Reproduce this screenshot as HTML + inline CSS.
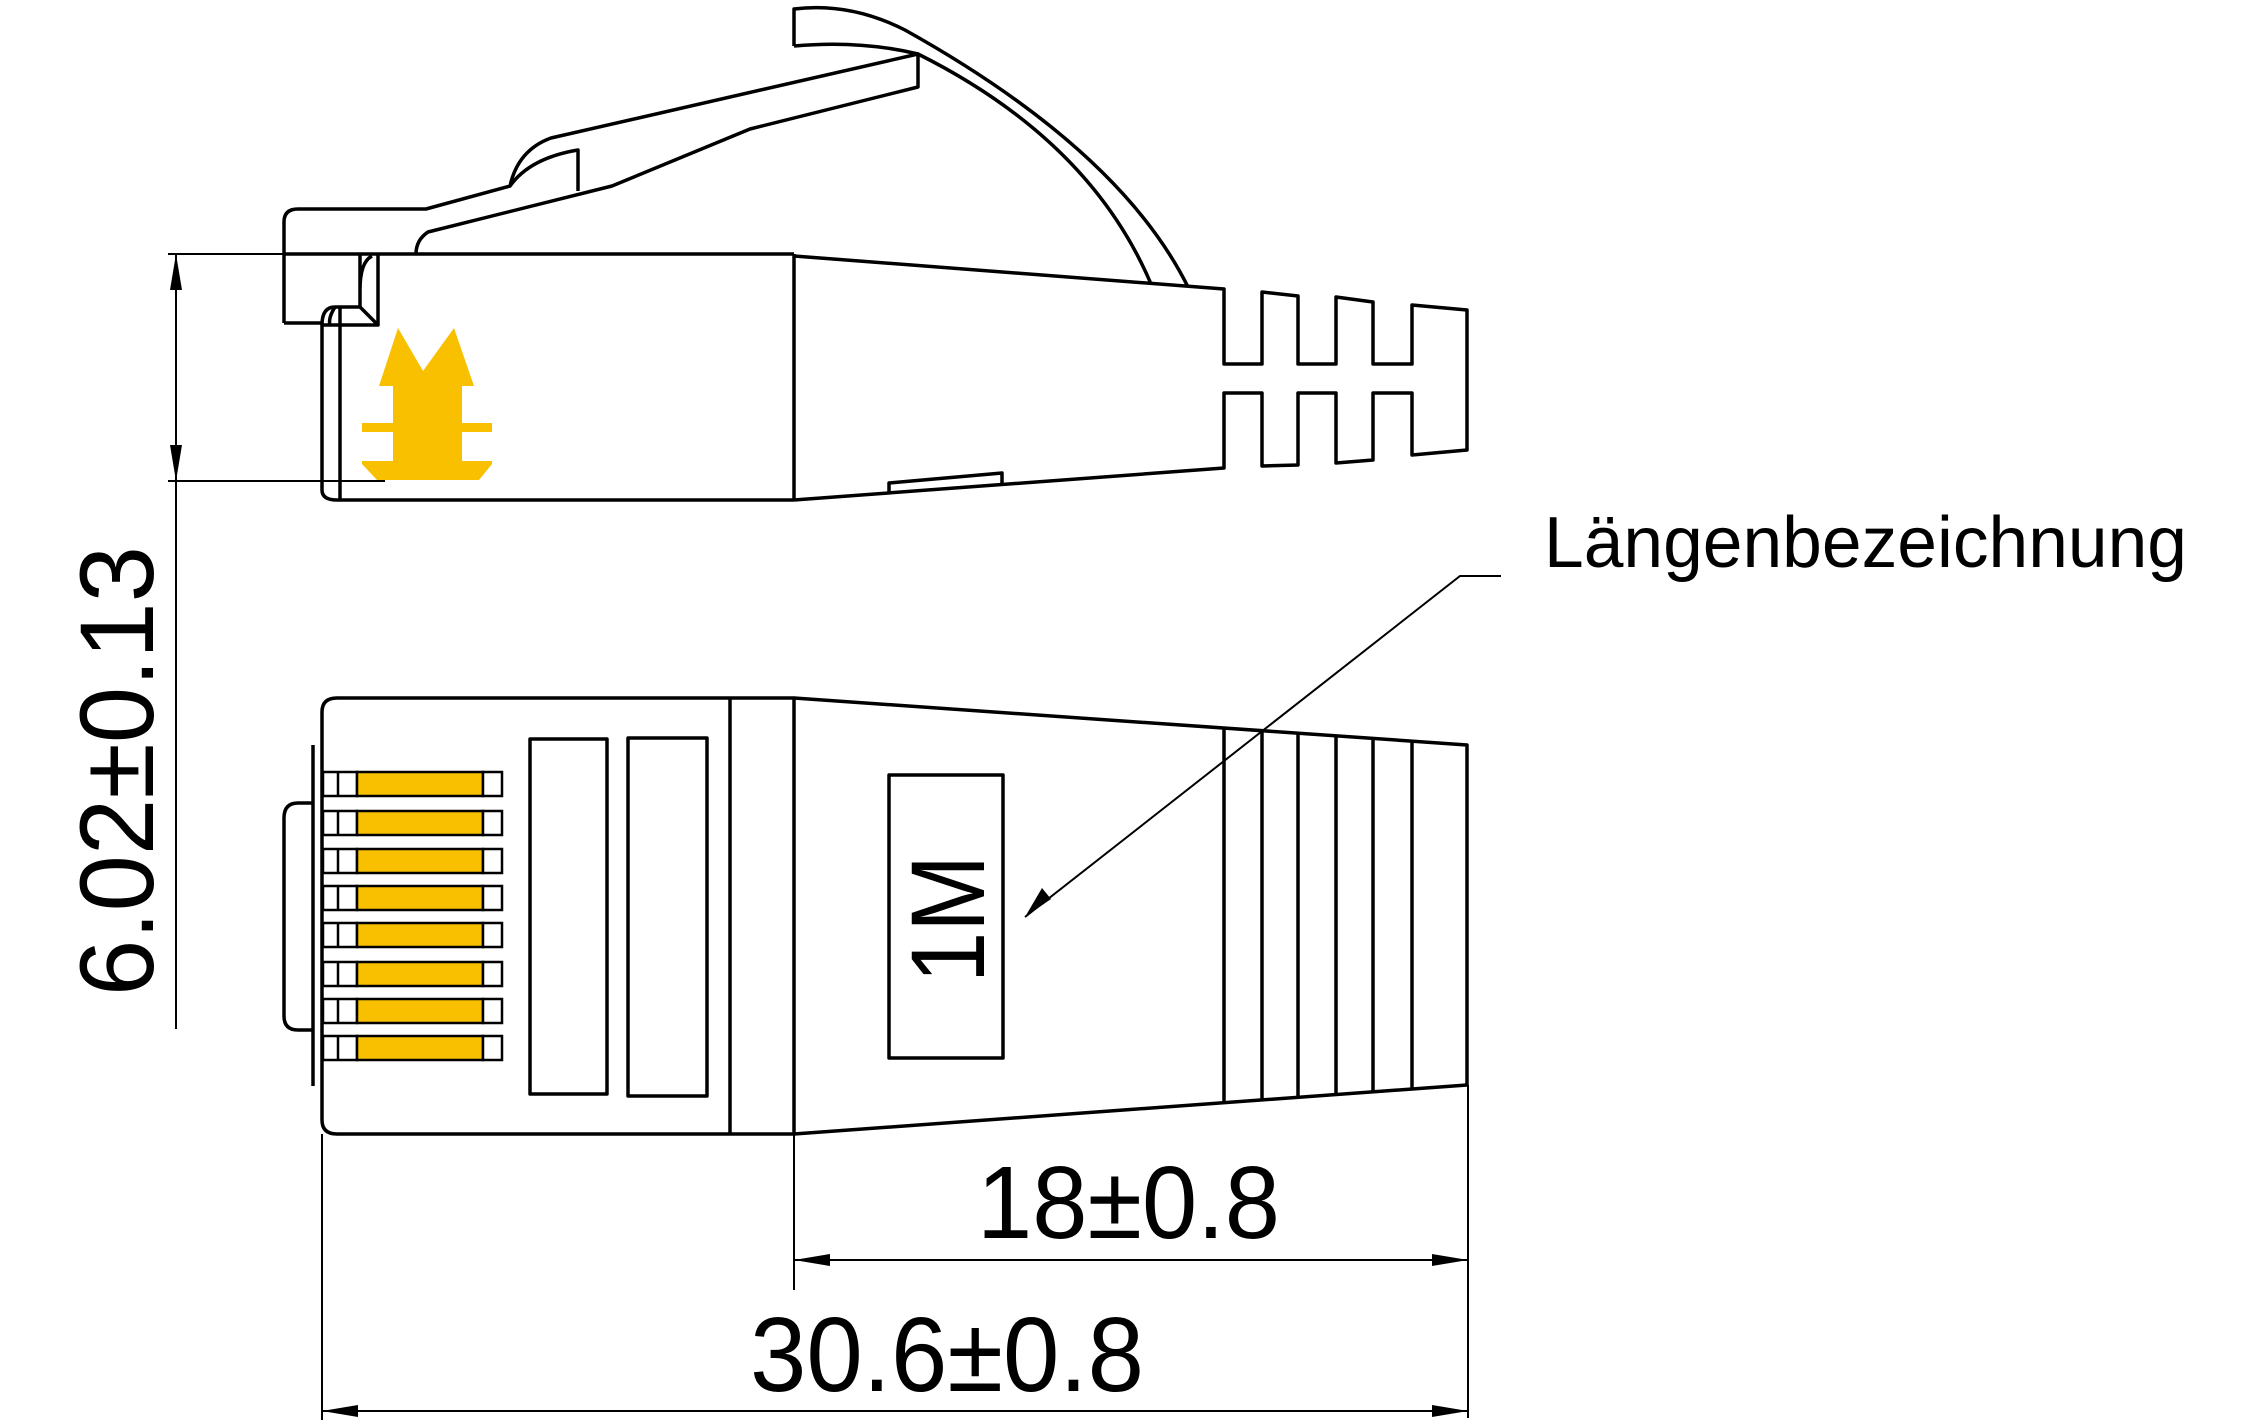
<!DOCTYPE html>
<html><head><meta charset="utf-8"><style>html,body{margin:0;padding:0;background:#fff}svg{display:block}</style></head>
<body>
<svg width="2262" height="1424" viewBox="0 0 2262 1424" xmlns="http://www.w3.org/2000/svg">
<g fill="none" stroke="#000" stroke-width="3.5" stroke-linejoin="round">
<!-- cable top -->
<path d="M794,46 L794,9 Q850,2 905,30 Q1120,150 1188,287"/>
<path d="M794,46 Q860,40 918,54 Q1090,140 1151,284"/>
<!-- latch -->
<path d="M284,323 L284,222 Q284,209 298,209 L426,209 L510,186 Q518,150 551,138 L918,54 L918,87 L750,129 L612,186 L428,232 Q416,240 416,254"/>
<path d="M510,186 Q530,158 578,150 L578,191"/>
<path d="M284,323 L322,323"/>
<path d="M284,254 L794,254"/>
<path d="M360,254 L360,307 M378,254 L378,325 M360,290 Q360,262 372,256"/>
<path d="M321,325 L378,325 L360,307 L335,307 Q322,307 322,325"/>
<path d="M335,307 Q328,318 330,325"/>
<path d="M322,325 L322,490 Q322,500 337,500 L794,500 M340,307 L340,500"/>
<!-- body top view -->
<path d="M794,254 L794,500"/>
<path d="M794,256 L1224,289 L1224,364 L1262,364 L1262,292 L1298,296 L1298,364 L1336,364 L1336,297 L1373,302 L1373,364 L1412,364 L1412,305 L1467,310 L1467,450 L1412,455 L1412,393 L1373,393 L1373,460 L1336,463 L1336,393 L1298,393 L1298,465 L1262,466 L1262,393 L1224,393 L1224,468 L794,500"/>
<path d="M889,492 L889,483 L1002,473 L1002,484"/>
<!-- front view -->
<path d="M337,698 L794,698 L794,1134 L337,1134 Q322,1134 322,1120 L322,712 Q322,698 337,698 Z"/>
<path d="M730,698 L730,1134"/>
<path d="M313,745 L313,1086 M313,803 L298,803 Q284,803 284,818 L284,1016 Q284,1030 298,1030 L313,1030"/>
<path d="M794,698 L1467,745 L1467,1085 L794,1134"/>
<path d="M1224,728 L1224,1103 M1262,731 L1262,1100 M1298,733 L1298,1097 M1336,736 L1336,1095 M1373,738 L1373,1092 M1412,741 L1412,1089"/>
<rect x="530" y="739" width="77" height="355"/>
<rect x="628" y="738" width="79" height="358"/>
<rect x="889" y="775" width="114" height="283"/>
</g>
<!-- contacts -->
<g stroke="#000" stroke-width="2.5">
<g id="c"><rect x="323" y="772" width="34" height="24" fill="#fff"/><line x1="338" y1="772" x2="338" y2="796"/><rect x="357" y="772" width="126" height="24" fill="#F9C000"/><rect x="483" y="772" width="19" height="24" fill="#fff"/></g>
<use href="#c" y="39"/><use href="#c" y="77"/><use href="#c" y="114"/><use href="#c" y="151"/><use href="#c" y="190"/><use href="#c" y="227"/><use href="#c" y="264"/>
</g>
<!-- yellow shape -->
<path fill="#F9C000" d="M398,328 L423,371 L454,328 L474,386 L462,386 L462,423 L492,423 L492,432 L462,432 L462,461 L492,461 L492,464 L479,480 L377,480 L362,464 L362,461 L393,461 L393,432 L362,432 L362,423 L393,423 L393,386 L379,386 Z"/>
<!-- dimensions -->
<g stroke="#000" stroke-width="2" fill="none">
<path d="M168,254 L284,254 M168,481 L385,481 M176,254 L176,1029"/>
<path d="M322,1134 L322,1420 M794,1134 L794,1290 M1468,1085 L1468,1418"/>
<path d="M794,1260 L1468,1260 M322,1411 L1468,1411"/>
<path d="M1501,576 L1460,576 L1025,917"/>
</g>
<g fill="#000">
<path d="M176,254 L170,290 L182,290 Z"/>
<path d="M176,481 L170,445 L182,445 Z"/>
<path d="M794,1260 L830,1254 L830,1266 Z"/>
<path d="M1468,1260 L1432,1254 L1432,1266 Z"/>
<path d="M322,1411 L358,1405 L358,1417 Z"/>
<path d="M1468,1411 L1432,1405 L1432,1417 Z"/>
<path d="M1025,917 L1042,888 L1051,899 Z"/>
</g>
<g font-family="Liberation Sans, sans-serif" fill="#000">
<text x="1544" y="567" font-size="72" textLength="643" lengthAdjust="spacingAndGlyphs">Längenbezeichnung</text>
<text x="977" y="1238" font-size="103" textLength="303" lengthAdjust="spacingAndGlyphs">18±0.8</text>
<text x="750" y="1391" font-size="106" textLength="394" lengthAdjust="spacingAndGlyphs">30.6±0.8</text>
<text transform="translate(153,996) rotate(-90)" font-size="105" textLength="450" lengthAdjust="spacingAndGlyphs">6.02±0.13</text>
<text transform="translate(984,983) rotate(-90)" font-size="105" textLength="128" lengthAdjust="spacingAndGlyphs">1M</text>
</g>
</svg>
</body></html>
